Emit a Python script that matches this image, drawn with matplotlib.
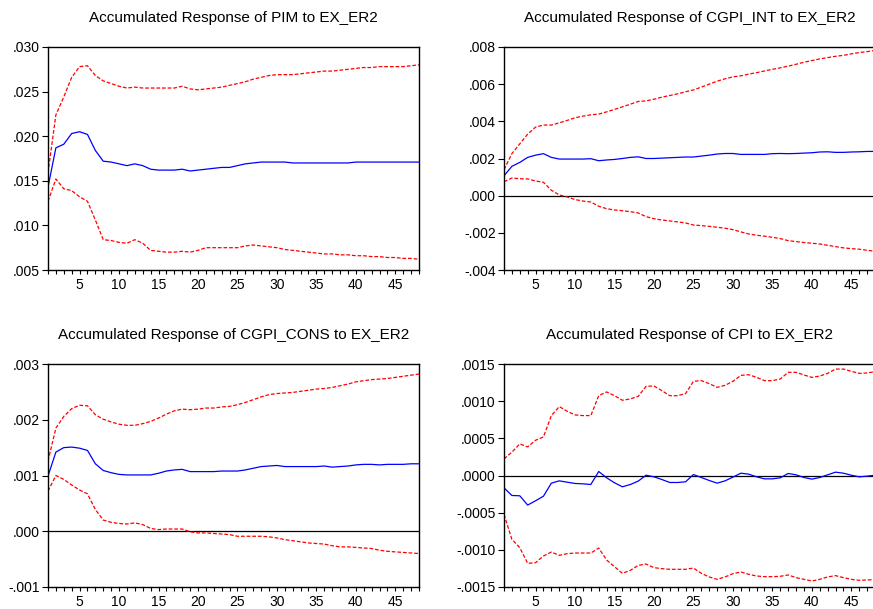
import matplotlib
matplotlib.use("Agg")
import matplotlib.pyplot as plt
from matplotlib.ticker import FuncFormatter, MultipleLocator
import numpy as np

plt.rcParams['font.family'] = ['Liberation Sans', 'DejaVu Sans']

periods = list(range(1, 49))

# Accumulated response of PIM to EX_ER2
pim_resp = [0.0143, 0.0187, 0.0191, 0.0203, 0.0205, 0.0202, 0.0184, 0.0172, 0.0171, 0.0169,
            0.0167, 0.0169, 0.0167, 0.0163, 0.0162, 0.0162, 0.0162, 0.0163, 0.0161, 0.0162,
            0.0163, 0.0164, 0.0165, 0.0165, 0.0167, 0.0169, 0.0170, 0.0171, 0.0171, 0.0171,
            0.0171, 0.0170, 0.0170, 0.0170, 0.0170, 0.0170, 0.0170, 0.0170, 0.0170, 0.0171,
            0.0171, 0.0171, 0.0171, 0.0171, 0.0171, 0.0171, 0.0171, 0.0171]
pim_up = [0.0159, 0.0224, 0.0244, 0.0266, 0.0278, 0.0279, 0.0268, 0.0262, 0.0259, 0.0256,
          0.0254, 0.0255, 0.0254, 0.0254, 0.0254, 0.0254, 0.0254, 0.0256, 0.0253, 0.0252,
          0.0253, 0.0254, 0.0255, 0.0257, 0.0259, 0.0261, 0.0264, 0.0266, 0.0268, 0.0269,
          0.0269, 0.0269, 0.0270, 0.0271, 0.0272, 0.0273, 0.0273, 0.0274, 0.0275, 0.0276,
          0.0277, 0.0277, 0.0278, 0.0278, 0.0278, 0.0278, 0.0279, 0.0280]
pim_lo = [0.0127, 0.0152, 0.0141, 0.0139, 0.0132, 0.0127, 0.0106, 0.0084, 0.0083, 0.0081,
          0.0080, 0.0084, 0.0080, 0.0072, 0.0071, 0.0070, 0.0070, 0.0071, 0.0070, 0.0072,
          0.0075, 0.0075, 0.0075, 0.0075, 0.0075, 0.0077, 0.0078, 0.0077, 0.0076, 0.0075,
          0.0073, 0.0072, 0.0071, 0.0070, 0.0069, 0.0068, 0.0068, 0.0067, 0.0067, 0.0066,
          0.0066, 0.0065, 0.0065, 0.0064, 0.0064, 0.0063, 0.0063, 0.0062]

# Accumulated response of CGPI_INT to EX_ER2
int_resp = [0.00107, 0.00158, 0.00179, 0.00206, 0.00218, 0.00226, 0.00206, 0.00197, 0.00197, 0.00197,
            0.00197, 0.00199, 0.00188, 0.00192, 0.00195, 0.00200, 0.00206, 0.00209, 0.00200, 0.00200,
            0.00202, 0.00204, 0.00206, 0.00208, 0.00208, 0.00213, 0.00218, 0.00224, 0.00227, 0.00227,
            0.00222, 0.00222, 0.00222, 0.00222, 0.00226, 0.00227, 0.00226, 0.00227, 0.00229, 0.00231,
            0.00235, 0.00236, 0.00233, 0.00233, 0.00235, 0.00236, 0.00238, 0.00238]
int_up = [0.00140, 0.00226, 0.00279, 0.00331, 0.00369, 0.00380, 0.00380, 0.00392, 0.00405, 0.00419,
          0.00428, 0.00435, 0.00439, 0.00451, 0.00464, 0.00478, 0.00492, 0.00507, 0.00510, 0.00519,
          0.00530, 0.00539, 0.00548, 0.00559, 0.00569, 0.00584, 0.00600, 0.00616, 0.00629, 0.00639,
          0.00645, 0.00654, 0.00662, 0.00671, 0.00680, 0.00688, 0.00697, 0.00707, 0.00718, 0.00727,
          0.00736, 0.00743, 0.00750, 0.00755, 0.00763, 0.00770, 0.00775, 0.00782]
int_lo = [0.00075, 0.00095, 0.00091, 0.00090, 0.00079, 0.00072, 0.00029, 0.00004, -0.00007, -0.00021,
          -0.00029, -0.00034, -0.00057, -0.00070, -0.00077, -0.00081, -0.00086, -0.00093, -0.00113, -0.00124,
          -0.00131, -0.00136, -0.00141, -0.00147, -0.00158, -0.00161, -0.00165, -0.00170, -0.00175, -0.00183,
          -0.00195, -0.00206, -0.00213, -0.00218, -0.00224, -0.00231, -0.00242, -0.00247, -0.00252, -0.00256,
          -0.00260, -0.00267, -0.00274, -0.00281, -0.00285, -0.00288, -0.00294, -0.00299]

# Accumulated response of CGPI_CONS to EX_ER2
cons_resp = [0.00099, 0.00142, 0.00150, 0.00151, 0.00149, 0.00145, 0.00121, 0.00109, 0.00105, 0.00102,
             0.00101, 0.00101, 0.00101, 0.00101, 0.00104, 0.00108, 0.00110, 0.00111, 0.00107, 0.00107,
             0.00107, 0.00107, 0.00108, 0.00108, 0.00108, 0.00110, 0.00113, 0.00116, 0.00117, 0.00118,
             0.00116, 0.00116, 0.00116, 0.00116, 0.00116, 0.00117, 0.00115, 0.00116, 0.00117, 0.00119,
             0.00120, 0.00120, 0.00119, 0.00120, 0.00120, 0.00120, 0.00121, 0.00121]
cons_up = [0.00126, 0.00185, 0.00206, 0.00220, 0.00226, 0.00225, 0.00209, 0.00201, 0.00196, 0.00192,
           0.00190, 0.00190, 0.00193, 0.00197, 0.00203, 0.00210, 0.00216, 0.00219, 0.00218, 0.00219,
           0.00221, 0.00221, 0.00223, 0.00224, 0.00227, 0.00231, 0.00236, 0.00241, 0.00245, 0.00247,
           0.00248, 0.00249, 0.00251, 0.00253, 0.00255, 0.00256, 0.00258, 0.00261, 0.00264, 0.00268,
           0.00270, 0.00272, 0.00273, 0.00274, 0.00276, 0.00278, 0.00280, 0.00282]
cons_lo = [0.00072, 0.00100, 0.00093, 0.00083, 0.00074, 0.00067, 0.00039, 0.00020, 0.00016, 0.00014,
           0.00013, 0.00015, 0.00012, 0.00005, 0.00003, 0.00004, 0.00004, 0.00004, -0.00001, -0.00003,
           -0.00003, -0.00004, -0.00005, -0.00006, -0.00009, -0.00009, -0.00009, -0.00009, -0.00010, -0.00012,
           -0.00015, -0.00017, -0.00019, -0.00021, -0.00022, -0.00023, -0.00026, -0.00028, -0.00028, -0.00029,
           -0.00030, -0.00031, -0.00034, -0.00036, -0.00037, -0.00038, -0.00039, -0.00040]

# Accumulated response of CPI to EX_ER2
cpi_resp = [-0.000166, -0.000269, -0.000273, -0.000398, -0.000340, -0.000278, -0.000103, -0.000072, -0.000090, -0.000107,
            -0.000112, -0.000121, 0.000054, -0.000031, -0.000098, -0.000152, -0.000121, -0.000076, 0.000004, -0.000018,
            -0.000054, -0.000094, -0.000094, -0.000085, 0.000013, -0.000027, -0.000067, -0.000103, -0.000072, -0.000022,
            0.000031, 0.000018, -0.000018, -0.000045, -0.000045, -0.000031, 0.000027, 0.000009, -0.000027, -0.000049,
            -0.000027, 0.000009, 0.000045, 0.000031, 0.000004, -0.000018, -0.000009, 0.000004]
cpi_up = [0.000224, 0.000313, 0.000425, 0.000385, 0.000474, 0.000519, 0.000806, 0.000927, 0.000864, 0.000815,
          0.000806, 0.000806, 0.001074, 0.001124, 0.001074, 0.001012, 0.001030, 0.001065, 0.001200, 0.001204,
          0.001141, 0.001074, 0.001074, 0.001101, 0.001267, 0.001276, 0.001236, 0.001186, 0.001213, 0.001267,
          0.001347, 0.001356, 0.001320, 0.001276, 0.001276, 0.001298, 0.001388, 0.001388, 0.001352, 0.001320,
          0.001338, 0.001374, 0.001432, 0.001432, 0.001401, 0.001374, 0.001379, 0.001397]
cpi_lo = [-0.000524, -0.000859, -0.000971, -0.001182, -0.001173, -0.001083, -0.001030, -0.001074, -0.001052, -0.001043,
          -0.001043, -0.001043, -0.000976, -0.001137, -0.001227, -0.001316, -0.001276, -0.001209, -0.001191, -0.001240,
          -0.001253, -0.001262, -0.001262, -0.001262, -0.001245, -0.001316, -0.001365, -0.001397, -0.001365, -0.001321,
          -0.001298, -0.001329, -0.001352, -0.001361, -0.001361, -0.001356, -0.001338, -0.001374, -0.001397, -0.001419,
          -0.001397, -0.001365, -0.001347, -0.001374, -0.001397, -0.001410, -0.001405, -0.001401]

titles = ["Accumulated Response of PIM to EX_ER2",
          "Accumulated Response of CGPI_INT to EX_ER2",
          "Accumulated Response of CGPI_CONS to EX_ER2",
          "Accumulated Response of CPI to EX_ER2"]


def dot_fmt(decimals):
    # EViews style: no leading zero, e.g. ".030" / "-.0015"
    def f(v, pos):
        s = "{:.{d}f}".format(v, d=decimals)
        if abs(v) < 10 ** (-decimals - 2):
            s = "{:.{d}f}".format(0.0, d=decimals)
        return s.replace("0.", ".", 1)
    return FuncFormatter(f)


def draw_panel(ax, resp, up, lo, title, ylim, ystep, decimals, zero_line):
    if zero_line:
        ax.axhline(0, color="black", lw=0.9, zorder=1)
    ax.plot(periods, up, color="#ff0000", lw=0.9, ls=(0, (3, 1.5)))
    ax.plot(periods, lo, color="#ff0000", lw=0.9, ls=(0, (3, 1.5)))
    ax.plot(periods, resp, color="#0000ff", lw=0.9)
    ax.set_xlim(1, 48)
    ax.set_ylim(*ylim)
    ax.xaxis.set_major_locator(MultipleLocator(5))
    ax.xaxis.set_minor_locator(MultipleLocator(1))
    ax.yaxis.set_major_locator(MultipleLocator(ystep))
    ax.yaxis.set_major_formatter(dot_fmt(decimals))
    ax.tick_params(axis="x", which="both", direction="out", length=3, width=0.8,
                   labelsize=10, pad=2.5)
    ax.tick_params(axis="y", which="major", direction="out", length=4, width=0.8,
                   labelsize=10, pad=2)
    for sp in ax.spines.values():
        sp.set_linewidth(1.0)
    ax.set_title(title, fontsize=11, pad=18)


fig = plt.figure(figsize=(8.73, 6.09), dpi=100)
W, H = 873.0, 609.0
ax1 = fig.add_axes([48 / W, 1 - 270 / H, 371 / W, 223 / H])
ax2 = fig.add_axes([504 / W, 1 - 270 / H, 371 / W, 223 / H])
ax3 = fig.add_axes([48 / W, 1 - 587 / H, 371 / W, 223 / H])
ax4 = fig.add_axes([504 / W, 1 - 587 / H, 371 / W, 223 / H])

draw_panel(ax1, pim_resp, pim_up, pim_lo, titles[0], (0.005, 0.030), 0.005, 3, False)
draw_panel(ax2, int_resp, int_up, int_lo, titles[1], (-0.004, 0.008), 0.002, 3, True)
draw_panel(ax3, cons_resp, cons_up, cons_lo, titles[2], (-0.001, 0.003), 0.001, 3, True)
draw_panel(ax4, cpi_resp, cpi_up, cpi_lo, titles[3], (-0.0015, 0.0015), 0.0005, 4, True)

fig.savefig("out.png", dpi=100)
